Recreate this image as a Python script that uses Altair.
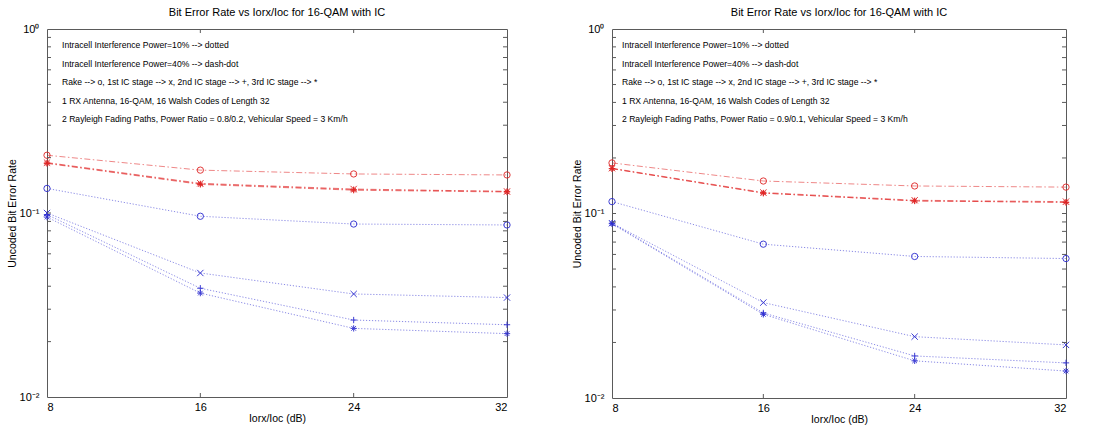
import altair as alt
import pandas as pd

# Iorx/Ioc grid (dB)
x_db = [8, 16, 24, 32]

# Power ratio 0.8/0.2
left_10_rake = [0.136, 0.0960, 0.0871, 0.0861]
left_10_ic1 = [0.100, 0.0472, 0.0363, 0.0347]
left_10_ic2 = [0.098, 0.0390, 0.0262, 0.0247]
left_10_ic3 = [0.095, 0.0367, 0.0236, 0.0221]
left_40_rake = [0.206, 0.171, 0.163, 0.161]
left_40_ic1 = [0.188, 0.145, 0.135, 0.131]
left_40_ic2 = [0.187, 0.144, 0.134, 0.131]
left_40_ic3 = [0.186, 0.143, 0.133, 0.130]

# Power ratio 0.9/0.1
right_10_rake = [0.116, 0.0682, 0.0585, 0.0570]
right_10_ic1 = [0.0886, 0.0329, 0.0215, 0.0194]
right_10_ic2 = [0.0886, 0.0289, 0.0169, 0.0155]
right_10_ic3 = [0.0880, 0.0284, 0.0159, 0.0140]
right_40_rake = [0.188, 0.150, 0.141, 0.139]
right_40_ic1 = [0.176, 0.130, 0.118, 0.116]
right_40_ic2 = [0.175, 0.129, 0.117, 0.115]
right_40_ic3 = [0.175, 0.129, 0.117, 0.115]

stages = ["Rake", "1st IC", "2nd IC", "3rd IC"]
powers = ["10%", "40%"]

title_text = "Bit Error Rate vs Iorx/Ioc for 16-QAM with IC"
notes_common = [
    "Intracell Interference Power=10% --> dotted",
    "Intracell Interference Power=40% --> dash-dot",
    "Rake --> o, 1st IC stage --> x, 2nd IC stage --> +, 3rd IC stage --> *",
    "1 RX Antenna, 16-QAM, 16 Walsh Codes of Length 32",
]
note_left = "2 Rayleigh Fading Paths, Power Ratio = 0.8/0.2, Vehicular Speed = 3 Km/h"
note_right = "2 Rayleigh Fading Paths, Power Ratio = 0.9/0.1, Vehicular Speed = 3 Km/h"

minor_y = [m * 0.01 for m in range(2, 10)] + [m * 0.1 for m in range(2, 10)]
major_y = [0.1]
inner_x = [16, 24]

FONT = "Liberation Sans"
FRAME = "#5a5a5a"

# Matlab-like marker glyphs as SVG paths
SHAPES = [
    "circle",
    "M-1,-1L1,1M1,-1L-1,1",
    "M-1,0L1,0M0,-1L0,1",
    "M-1,0L1,0M0,-1L0,1M-0.72,-0.72L0.72,0.72M0.72,-0.72L-0.72,0.72",
]

X_SCALE = alt.Scale(domain=[8, 32], nice=False, zero=False)
Y_SCALE = alt.Scale(type="log", domain=[0.01, 1], nice=False)


def frame_long(series):
    rows = []
    for (power, stage), vals in series.items():
        for x, v in zip(x_db, vals):
            rows.append({"x": x, "ber": v, "power": power, "stage": stage})
    return pd.DataFrame(rows)


def panel(series, last_note, w, h, note_dx):
    df = frame_long(series)
    xs = alt.X("x:Q", scale=X_SCALE,
               axis=alt.Axis(values=x_db, title="Iorx/Ioc (dB)", ticks=False,
                             domain=False, grid=False, labelPadding=4,
                             titlePadding=1, labelFontSize=11, titleFontSize=10.5,
                             labelFont=FONT, titleFont=FONT, titleFontWeight="normal",
                             labelColor="black", titleColor="black"))
    ys = alt.Y("ber:Q", scale=Y_SCALE,
               axis=alt.Axis(values=[0.01, 0.1, 1], ticks=False, domain=False, grid=False,
                             labelExpr="datum.value >= 1 ? '10⁰' : datum.value >= 0.1 ? '10⁻¹' : '10⁻²'",
                             title="Uncoded Bit Error Rate", labelPadding=8,
                             titlePadding=2, labelFontSize=11, titleFontSize=10.5,
                             labelFont=FONT, titleFont=FONT, titleFontWeight="normal",
                             labelColor="black", titleColor="black"))
    color = alt.Color("power:N", scale=alt.Scale(domain=powers, range=["#2b2bd0", "#e02525"]),
                      legend=None)
    lines = alt.Chart(df).mark_line(strokeWidth=1, opacity=0.55).encode(
        x=xs, y=ys, color=color, detail="stage:N",
        strokeDash=alt.StrokeDash("power:N", scale=alt.Scale(domain=powers,
                                  range=[[1.2, 1.8], [6, 2.5, 1.5, 2.5]]), legend=None),
    )
    points = alt.Chart(df).mark_point(filled=False, size=40, strokeWidth=1, opacity=0.9).encode(
        x=alt.X("x:Q", scale=X_SCALE), y=alt.Y("ber:Q", scale=Y_SCALE), color=color,
        shape=alt.Shape("stage:N", scale=alt.Scale(domain=stages, range=SHAPES), legend=None),
    )
    tick_df = pd.DataFrame({"ber": minor_y + major_y})
    tick_y = alt.Y("ber:Q", scale=Y_SCALE)
    left_ticks = alt.Chart(tick_df).mark_rule(color=FRAME, strokeWidth=1).encode(
        y=tick_y, x=alt.value(0), x2=alt.value(4))
    right_ticks = alt.Chart(tick_df).mark_rule(color=FRAME, strokeWidth=1).encode(
        y=tick_y, x=alt.value(w - 4), x2=alt.value(w))
    xt_df = pd.DataFrame({"x": inner_x})
    tick_x = alt.X("x:Q", scale=X_SCALE)
    top_ticks = alt.Chart(xt_df).mark_rule(color=FRAME, strokeWidth=1).encode(
        x=tick_x, y=alt.value(0), y2=alt.value(4))
    bottom_ticks = alt.Chart(xt_df).mark_rule(color=FRAME, strokeWidth=1).encode(
        x=tick_x, y=alt.value(h - 4), y2=alt.value(h))
    notes = alt.Chart(pd.DataFrame({"k": [0]})).mark_text(
        align="left", baseline="alphabetic", fontSize=8.6, font=FONT,
        lineHeight=18.6, color="black", text=notes_common + [last_note],
    ).encode(x=alt.value(note_dx), y=alt.value(19))
    return alt.layer(lines, points, left_ticks, right_ticks, top_ticks, bottom_ticks, notes).properties(
        width=w, height=h,
        title=alt.TitleParams(title_text, fontSize=11, font=FONT, fontWeight="normal",
                              color="black", offset=5),
    )


left = panel({
    ("10%", "Rake"): left_10_rake, ("10%", "1st IC"): left_10_ic1,
    ("10%", "2nd IC"): left_10_ic2, ("10%", "3rd IC"): left_10_ic3,
    ("40%", "Rake"): left_40_rake, ("40%", "1st IC"): left_40_ic1,
    ("40%", "2nd IC"): left_40_ic2, ("40%", "3rd IC"): left_40_ic3,
}, note_left, 460, 368, 15)

right = panel({
    ("10%", "Rake"): right_10_rake, ("10%", "1st IC"): right_10_ic1,
    ("10%", "2nd IC"): right_10_ic2, ("10%", "3rd IC"): right_10_ic3,
    ("40%", "Rake"): right_40_rake, ("40%", "1st IC"): right_40_ic1,
    ("40%", "2nd IC"): right_40_ic2, ("40%", "3rd IC"): right_40_ic3,
}, note_right, 454, 369, 10)

chart = alt.hconcat(left, right, spacing=105, bounds="flush").properties(
    padding={"left": 6, "top": 6, "right": 5, "bottom": 5},
    background="white",
).configure_view(stroke=FRAME, strokeWidth=1)

chart.save("out.html", embed_options={"renderer": "svg", "actions": False})
